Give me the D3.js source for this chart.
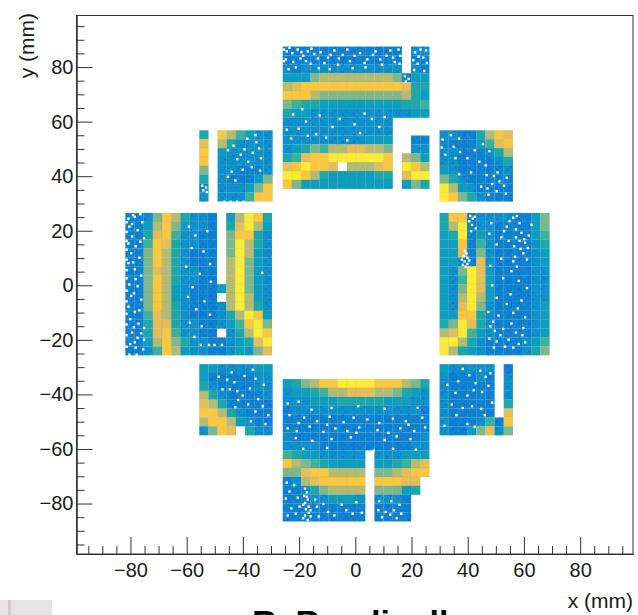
<!DOCTYPE html>
<html>
<head>
<meta charset="utf-8">
<script src="https://cdn.jsdelivr.net/npm/d3@7"></script>
<style>
  html, body { margin: 0; padding: 0; background: #fff; overflow: hidden; }
  text { font-family: "Liberation Sans", Arial, sans-serif; fill: #1a1a1a; }
</style>
</head>
<body>
<div id="svg-area"></div>
<script>
var svgWidth = 638;
var svgHeight = 615;

// cell pitch in mm
var pitch = 3.26;

// rows go from top to bottom, one digit per cell, 0 = few hits, 9 = most, "." = no cell
var leftRows = [
  "0015863110.26983", "0026852110.37962", "0037841100.58831", "0048731100.59631",
  "0058631000.59621", "0058631000.69521", "0057631100.69521", "0058631100.69521",
  "0058621000269521", "0058621000.69621", "0058631000169631", "0047631000136982",
  "0037731100124895", "0037841100.13698", "0026853110012379", "0014862110012257"
];
var rightRows = [
  "388011110025", "369011000025", "239021000024", "228041000013",
  "227051000012", "220071000012", "215972000011", "214972000011",
  "215972000011", "216962000011", "217951000012", "228831000012",
  "359731000012", "679421000012", "996310000124", "963210000135"
];
var topRows = [
  "0000000000000.11", "0000000000000.00", "1011111111111.10", "2225666666665022",
  "6788888888888733", "8886555555555632", "5433222222222334", "3221111111111122",
  "111111111111....", "111111111111....", "111111111222..00", "123546677665..11",
  "347889999998.652", "789887.66678.986", "998632222233.799", "852222222222.253"
];
var bottomRows = [
  "2356889999888653", "1223466777665321", "1112223333322211", "0111111111111110",
  "0000000000000000", "0000000000000000", "1000000000000001", "1111000000000011",
  "432211111.111222", "865432222.223467", "557886666.556788", "016788888.88877.",
  "001356666.55523.", "000112221.1110..", "000000000.0000..", "000000000.0000.."
];
var topLeftRows = ["3.864211", "7.631111", "8.211111", "8.111111", "5.110001", "3.100025", "0.111258", "1.111488"];
var topRightRows = ["11003687", "10002478", "11000136", "11000013", "21000001", "53100000", "96210000", "98531000"];
var bottomLeftRows = ["22111122", "20000011", "31000011", "63100001", "76300000", "88631000", "68862100", "1587.311"];
var bottomRightRows = ["211111.0", "100010.1", "100000.1", "100000.1", "100000.3", "100000.7", "10001408", "10025715"];

// white gaps between the hits, [column, row] inside each module
var leftSpecks = [[0.2,0.5],[0.9,0.3],[1.7,0.9],[0.3,1.4],[1.2,1.8],[0.6,2.5],[1.9,2.7],[0.2,3.3],[1,3.6],[0.5,4.4],[1.4,4.9],[0.2,5.5],[0.9,6.2],[1,7.3],[0.3,7.9],[1.2,8.1],[0.5,9.2],[1.6,9.6],[0.2,10.4],[0.9,11],[0.4,11.8],[1.3,12.3],[1.9,12.8],[0.6,13.3],[1.2,13.9],[1.9,14.1],[0.4,14.6],[1,15],[1.8,15.2],[0,0.9],[0,2],[0,3],[0,4],[0,5.1],[0,6.3],[0,7.2],[0,8.6],[0,9.8],[0,11.2],[0,12.4],[0,13.6],[0,14.9],[0.7,0.1],[1.5,0],[1.1,15.8],[0.3,15.8],[0.6,1.1],[1.5,3.1],[0.7,5.4],[1.6,6.9],[0.8,8.9],[1.4,10.8],[0.8,12.7],[1.6,13.4],[0.9,14.4],[6.8,1.4],[7.5,2.4],[8.8,1.9],[7.1,3.8],[8.4,4.2],[9.1,5.6],[6.5,5.9],[8,6.7],[7.2,8.2],[9.2,7.6],[6.7,9.3],[8.5,9.8],[7.6,10.7],[9.1,11.3],[6.9,12.2],[8.2,12.6],[7.4,13.8],[8.1,14.7],[9,14.7],[9.6,14.7],[10.4,14.7],[14.8,6.6]];
var rightSpecks = [[3.2,0.2],[3.5,0.5],[3.1,0.8],[3.7,0.3],[3.4,1.2],[3.8,1.6],[3.3,1.9],[2.6,4.1],[2.8,4.4],[2.5,4.7],[2.9,4.9],[2.6,5.3],[2.9,5.6],[2.7,5.9],[2.3,5.1],[2.4,5.7],[3.1,5.2],[5.3,2.2],[6.6,2.6],[7.2,1.4],[7.9,0.4],[8.3,0.2],[8.6,1],[8.2,1.7],[8.8,2.1],[9.1,2.8],[8.6,3],[9.2,3.2],[8,3.6],[9.5,3.8],[9,4.4],[6.1,3.4],[7.9,5.3],[8.3,5.9],[7.7,6.4],[5.4,5.8],[6.8,7.2],[8.5,7.5],[9.4,8.3],[7.6,9],[6.1,9.4],[8.8,9.7],[5.2,11],[6.3,11.4],[7.9,11.1],[9.2,11.6],[5.4,12.6],[5.9,13.1],[6.8,12.9],[8.2,13.3],[9,12.8],[5.3,14],[6.1,14.3],[7.4,14.1],[8.5,14.6],[9.2,14.4],[7,14.9],[5.5,1],[7.5,0.8],[6.9,1.9],[9.9,1.2],[9.6,2.4],[8.2,2.6],[7.4,3],[8.7,3.9],[8.1,4.8],[9.4,5.1],[6.6,5],[5.6,8],[7.2,10.1],[8.4,10.6],[5.7,12.1],[7.7,12.3],[8.9,13.6],[6.5,13.6],[5.8,15],[7.9,15]];
var topSpecks = [[0.3,0.4],[0.9,0.6],[1.5,0.2],[2.1,0.9],[2.6,0.4],[3.3,0.7],[0.2,1.3],[1,1.6],[1.8,1.2],[2.9,1.8],[4,0.5],[4.8,1.1],[5.5,0.3],[6.4,0.8],[7.2,1.5],[8.3,0.6],[9.1,1.3],[10,0.4],[11.2,0.9],[12.5,0.2],[12.1,1.6],[10.7,1.9],[8.9,2.2],[5.9,1.9],[3.8,2.3],[0.5,2.4],[14.3,0.5],[15.2,1.1],[14.6,1.8],[15.5,0.3],[14.2,2.5],[13.2,3.2],[13.6,3.5],[13.3,3.8],[1,7.5],[2.4,8.3],[3.5,9.7],[0.8,10.2],[6.1,8],[7.7,8.6],[8.8,7.4],[10.4,8.9],[11,7.8],[4.6,10.1],[6.9,10.4],[0.3,9.2],[1.6,9.1],[2,6.9],[0,0.2],[0,1.5],[0.6,0],[1.9,0.5],[3,0.1],[3.7,1.2],[4.4,1.7],[5.1,0.8],[6,1.2],[6.9,0.2],[7.7,0.9],[8.8,1.7],[9.7,0.8],[10.5,1.3],[11.6,0.3],[11.9,1.1],[12.7,0.9],[12.6,1.8],[7.5,2.3],[5,2.4],[2.4,1.5],[1.3,2.2],[14.7,1],[15.6,1.7],[14.9,0.2],[14.1,1.4],[15.3,2.6],[3.9,7.6],[5.3,8.9],[8.3,9.6],[9.6,8],[2.6,9.9]];
var bottomSpecks = [[0.4,2.6],[1.6,2.4],[3,3.3],[5.2,3.1],[8.1,2.9],[11,3.2],[14.6,3.1],[0.6,3.9],[2.2,4.2],[3.6,4.6],[5,4.1],[6.5,4.7],[7.6,4.2],[9.1,4.4],[10.4,4.8],[11.9,4.3],[13.3,4.6],[15.1,4.2],[0.4,5.4],[1.4,5.7],[2.8,5.2],[4.3,5.8],[5.6,5.4],[6.9,5.7],[8.2,5.3],[10.2,5.6],[11.4,5.9],[12.7,5.4],[14.2,5.7],[15.4,5.3],[1.3,6.5],[3.1,6.8],[5.2,6.6],[7.3,6.4],[11,6.7],[12.3,6.3],[13.8,6.6],[2.1,7.7],[4.7,7.6],[9.8,7.9],[11.9,7.7],[14.4,7.8],[0.3,11.5],[1.1,11.8],[0.6,12.5],[2.3,12.2],[2.5,12.6],[2.2,13],[2.6,13.4],[2.3,13.8],[2.7,14.2],[2.4,14.5],[2.7,14.9],[2.3,15.2],[2.1,14],[2.5,13.1],[2.9,14.6],[2.1,15.5],[2.6,15.7],[2.9,15.3],[0.8,14.4],[1.3,15],[3.6,14.2],[4.8,14.8],[6.3,14],[7.5,15],[10.4,13.6],[11.1,14.8],[11.6,15.1],[12,14.6],[12.8,15],[0.2,13.3],[1.5,13.2],[0.4,15.2],[1.7,14.2],[3.4,13.4],[4.3,13.9],[5.5,15.2],[6.8,14.6],[7.9,13.7],[8.5,14.9],[3.8,15.3],[10.3,14.6],[11.7,13.6],[12.6,14],[10.7,15.4],[12.3,15.5],[1.6,4.8],[4.7,5],[7.9,5.9],[13.6,5]];
var topLeftSpecks = [[0.2,6.1],[0.6,6.3],[0.3,6.6],[0.7,6.8],[5.1,0.8],[6.1,1.2],[6.4,1.9],[4.8,2],[5.7,2.4],[3,2.1],[4,3.1],[5.2,3.4],[6.6,3],[3.4,4.5],[4.6,4.3],[3,5.1],[2.6,7.9],[3.3,7.9],[4,7.9],[4.7,7.9],[6.5,4.4],[3.6,1.6],[4.4,2.6],[6,0.4],[5.6,4],[3.8,5.5]];
var topRightSpecks = [[0.2,0.9],[1.1,0.4],[2,0.8],[1.4,1.7],[2.1,2.3],[0.5,2.6],[2.9,3],[4.2,3.4],[5.3,2.2],[4.9,3.8],[2,4.8],[3.3,4.6],[5,4.9],[5.8,5],[6.4,5.6],[5.6,5.9],[6.9,6.1],[6.1,6.7],[7.1,7],[4.4,6.2],[5.2,7.1],[0.1,1.8],[1.6,3],[3.7,2.1],[4.6,1.4],[6.2,4.6],[7.2,5.2],[5.1,6.4]];
var bottomLeftSpecks = [[2.9,1.6],[3.7,1.9],[4.8,1.2],[6,1.5],[2.4,2.7],[3.2,2.7],[4,2.9],[5.4,2.6],[6.9,2.2],[4.1,3.9],[5.2,4.4],[6.3,3.8],[3.8,4.7],[6,5.2],[7.4,5.6],[7.1,6.6],[5.5,6.3],[3.4,0.8],[5.7,0.5],[2,1.3],[4.6,3.4],[6.8,4.6]];
var bottomRightSpecks = [[4.3,0.6],[4.9,1.3],[3.1,1.1],[1.9,1.8],[3.8,2],[4.5,3],[2.9,3.4],[1.2,4.4],[2.4,4.8],[3.4,4.6],[4.4,4.9],[1.7,5.6],[0.4,6.8],[2.9,6.6],[3.7,6.9],[2.4,0.4],[5.4,0.9],[3.6,2.8],[5.2,2.3],[1.6,3.1],[0.7,2.2],[5.6,4.2],[4.8,5.6]];

// module name, its rows and specks, left edge and top edge in mm
var moduleNames = ["left", "right", "top", "bottom", "topLeft", "topRight", "bottomLeft", "bottomRight"];
var moduleRows = [leftRows, rightRows, topRows, bottomRows, topLeftRows, topRightRows, bottomLeftRows, bottomRightRows];
var moduleSpecks = [leftSpecks, rightSpecks, topSpecks, bottomSpecks, topLeftSpecks, topRightSpecks, bottomLeftSpecks, bottomRightSpecks];
var moduleX = [-81.8, 30, -25.8, -25.8, -55.5, 30, -55.5, 30];
var moduleY = [26.5, 26.5, 87.5, -34.4, 56.8, 56.8, -28.9, -28.9];

var xMajor = [-80, -60, -40, -20, 0, 20, 40, 60, 80];
var yMajor = [-80, -60, -40, -20, 0, 20, 40, 60, 80];
var axisMinor = d3.range(-95, 100, 5);

// bird palette of the plot, one colour per level
var levelColours = ["#0a80d2", "#0a90cc", "#0f9ebf", "#1aa7aa", "#3db29a", "#7db88c", "#b6bb72", "#e6bd58", "#fbc73c", "#fdec30"];

var svg = d3.select("#svg-area")
  .append("svg")
  .attr("width", svgWidth)
  .attr("height", svgHeight)
  .style("display", "block");

var left = 76.5, right = 633, top_ = 15.5, bottom = 554;

var xScale = d3.scaleLinear().domain([-99.2, 98.8]).range([left, right]);
var yScale = d3.scaleLinear().domain([-98.5, 98.9]).range([bottom, top_]);
var colourScale = d3.scaleOrdinal().domain(d3.range(10)).range(levelColours);

var defs = svg.append("defs");
defs.append("filter").attr("id", "soft")
  .attr("x", "-2%").attr("y", "-2%").attr("width", "104%").attr("height", "104%")
  .append("feGaussianBlur").attr("stdDeviation", 0.4);

// mottled look of the cells with few hits
var mottle = defs.append("pattern").attr("id", "mottle")
  .attr("patternUnits", "userSpaceOnUse")
  .attr("width", 11).attr("height", 7);
mottle.append("rect").attr("x", 1).attr("y", 1).attr("width", 2).attr("height", 1.5).attr("fill", "#0662c4").attr("opacity", 0.5);
mottle.append("rect").attr("x", 7).attr("y", 3).attr("width", 1.5).attr("height", 2).attr("fill", "#12a6c4").attr("opacity", 0.6);
mottle.append("rect").attr("x", 4).attr("y", 5).attr("width", 2).attr("height", 1.5).attr("fill", "#0662c4").attr("opacity", 0.4);
mottle.append("rect").attr("x", 9).attr("y", 0).attr("width", 1.5).attr("height", 1.5).attr("fill", "#12a6c4").attr("opacity", 0.5);

// heat map
var plot = svg.append("g").attr("filter", "url(#soft)");

moduleNames.forEach(function(name, m) {
  var cells = [];
  moduleRows[m].forEach(function(row, r) {
    row.split("").forEach(function(ch, c) {
      if (ch !== ".") cells.push({ col: c, row: r, level: +ch });
    });
  });

  var g = plot.append("g").attr("class", name);
  var cellW = xScale(pitch) - xScale(0);
  var cellH = yScale(0) - yScale(pitch);

  g.selectAll("rect.cell")
    .data(cells)
    .enter().append("rect")
    .attr("class", "cell")
    .attr("x", d => xScale(moduleX[m] + d.col * pitch))
    .attr("y", d => yScale(moduleY[m] - d.row * pitch))
    .attr("width", cellW)
    .attr("height", cellH)
    .attr("fill", d => colourScale(d.level))
    .attr("stroke", "rgba(60,110,120,0.13)")
    .attr("stroke-width", 0.5);

  g.selectAll("rect.mottle")
    .data(cells.filter(d => d.level <= 1))
    .enter().append("rect")
    .attr("class", "mottle")
    .attr("x", d => xScale(moduleX[m] + d.col * pitch))
    .attr("y", d => yScale(moduleY[m] - d.row * pitch))
    .attr("width", cellW)
    .attr("height", cellH)
    .attr("fill", "url(#mottle)");

  g.selectAll("rect.speck")
    .data(moduleSpecks[m])
    .enter().append("rect")
    .attr("class", "speck")
    .attr("x", d => xScale(moduleX[m] + d[0] * pitch))
    .attr("y", d => yScale(moduleY[m] - d[1] * pitch))
    .attr("width", 2.4)
    .attr("height", 2.4)
    .attr("fill", "#fff");
});

// axes, long ticks and short ticks both point into the frame
var xAxis = d3.axisBottom(xScale).tickValues(xMajor).tickSizeInner(-17).tickSizeOuter(0).tickPadding(9);
var xMinor = d3.axisBottom(xScale).tickValues(axisMinor.filter(v => v % 20 !== 0)).tickSizeInner(-8).tickSizeOuter(0).tickFormat("");
var yAxis = d3.axisLeft(yScale).tickValues(yMajor).tickSizeInner(-16).tickSizeOuter(0).tickPadding(3);
var yMinor = d3.axisLeft(yScale).tickValues(axisMinor.filter(v => v % 20 !== 0)).tickSizeInner(-8).tickSizeOuter(0).tickFormat("");

[
  [xMinor, "translate(0," + bottom + ")"],
  [xAxis, "translate(0," + bottom + ")"],
  [yMinor, "translate(" + left + ",0)"],
  [yAxis, "translate(" + left + ",0)"]
].forEach(function(a) {
  var g = svg.append("g").attr("transform", a[1]).call(a[0]);
  g.selectAll("path, line").attr("stroke", "#333");
  g.selectAll("text").style("font-size", "20px").attr("fill", "#1a1a1a");
});

// frame
svg.append("rect")
  .attr("x", left).attr("y", top_)
  .attr("width", right - left).attr("height", bottom - top_)
  .attr("fill", "none").attr("stroke", "#333");

svg.append("text")
  .attr("x", 633).attr("y", 608)
  .attr("text-anchor", "end")
  .style("font-size", "21px")
  .text("x (mm)");

svg.append("text")
  .attr("transform", "translate(34,13) rotate(-90)")
  .attr("text-anchor", "end")
  .style("font-size", "21px")
  .text("y (mm)");

// the slide below the plot, only its top edge is in the picture
svg.append("text")
  .attr("x", 252).attr("y", 634)
  .style("font-size", "34px")
  .style("font-weight", "bold")
  .style("fill", "#000")
  .text("R. Bandinell");

svg.append("rect")
  .attr("x", 0).attr("y", 600)
  .attr("width", 52).attr("height", 15)
  .attr("fill", "#e6e4e4");
svg.append("rect")
  .attr("x", 8).attr("y", 600)
  .attr("width", 3).attr("height", 15)
  .attr("fill", "#d8c8cc");
</script>
</body>
</html>
